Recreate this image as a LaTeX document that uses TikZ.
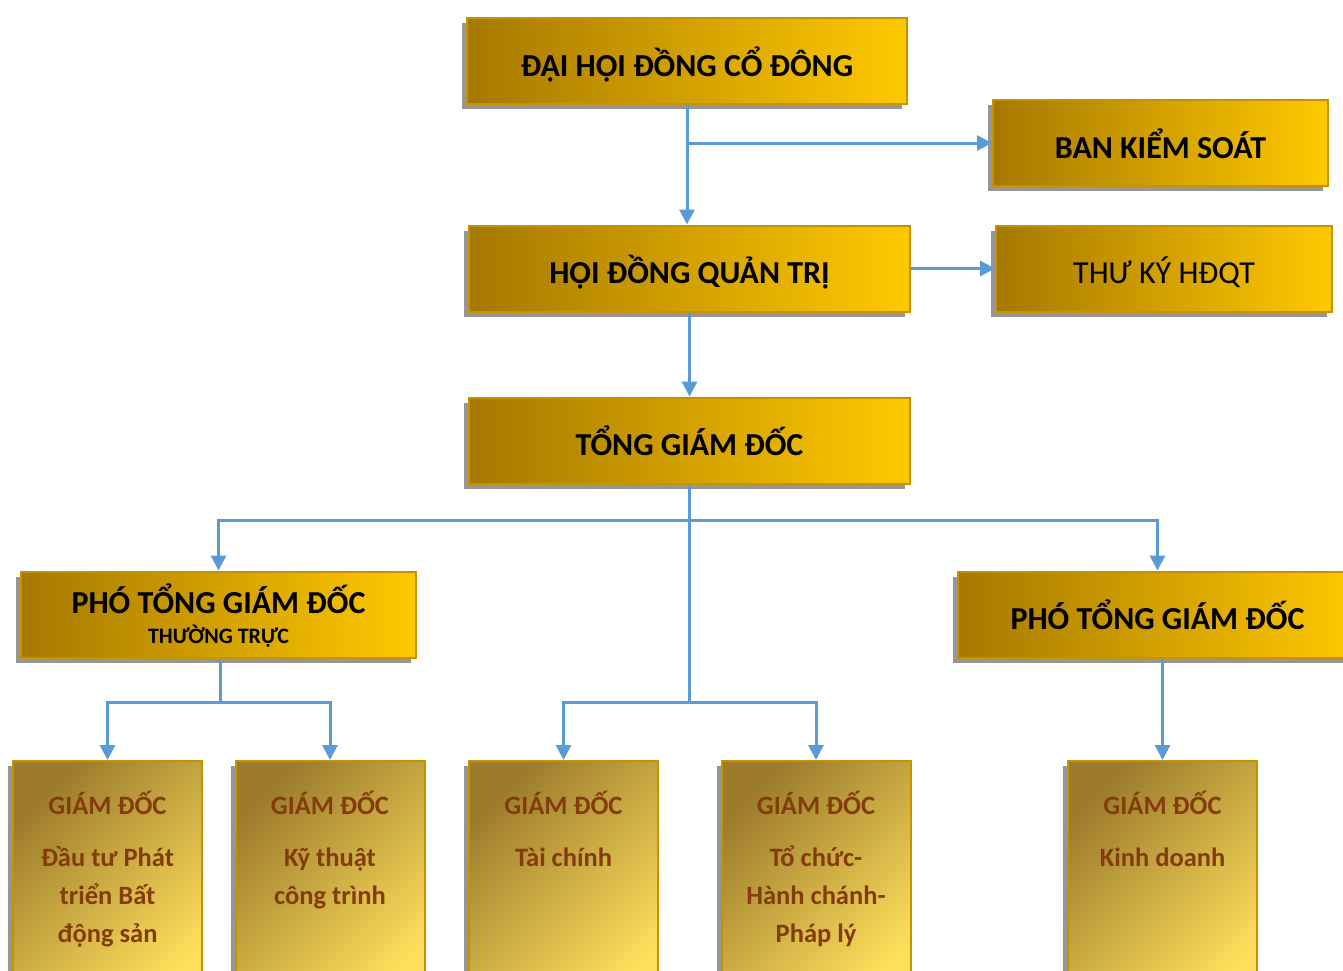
\documentclass[tikz,border=0pt]{standalone}
\usepackage{fontspec}
\setmainfont{Carlito}
\usetikzlibrary{arrows.meta,shadows,positioning}

\definecolor{golddark}{RGB}{166,120,0}
\definecolor{goldlight}{RGB}{255,201,0}
\definecolor{goldedge}{RGB}{196,148,0}
\definecolor{olivegold}{RGB}{156,124,44}
\definecolor{paleyellow}{RGB}{255,224,92}
\definecolor{browntext}{RGB}{132,60,12}
\definecolor{linkblue}{RGB}{91,155,213}
\definecolor{shadowgray}{RGB}{150,150,150}

\tikzset{
  boxshadow/.style={drop shadow={shadow xshift=-5pt, shadow yshift=-5pt, fill=shadowgray, opacity=1}},
  topbox/.style={draw=goldedge, line width=2pt, left color=golddark, right color=goldlight,
    minimum height=86pt, inner sep=0pt, boxshadow,
    font=\bfseries\fontsize{32}{38}\selectfont, text height=30pt, text depth=0pt},
  gdbox/.style={draw=goldedge, line width=2pt, top color=olivegold, bottom color=paleyellow,
    shading angle=45, minimum width=189pt, minimum height=250pt, boxshadow},
  gdtext/.style={text=browntext, font=\bfseries\fontsize{26.5}{38}\selectfont, align=center, inner sep=0pt},
  link/.style={draw=linkblue, line width=3pt, -{Triangle[length=15pt,width=15pt]}},
  trunk/.style={draw=linkblue, line width=3pt}
}

\begin{document}
\begin{tikzpicture}[x=1pt,y=-1pt]
  \useasboundingbox (0,0) rectangle (1343,970);

  % Board level
  \node[topbox, minimum width=440pt] (dhdcd) at (687,61) {ĐẠI HỘI ĐỒNG CỔ ĐÔNG};
  \node[topbox, minimum width=335pt] (bks) at (1160.5,143) {BAN KIỂM SOÁT};
  \node[topbox, minimum width=441pt] (hdqt) at (689.5,268.5) {HỘI ĐỒNG QUẢN TRỊ};
  \node[topbox, minimum width=336pt, font=\fontsize{32}{38}\selectfont] (thuky) at (1164,268.5) {THƯ KÝ HĐQT};
  \node[topbox, minimum width=441pt] (tgd) at (689.5,440.5) {TỔNG GIÁM ĐỐC};

  % Deputies
  \node[topbox, minimum width=395pt, align=center, text height=57pt] (ptgdtt) at (218.5,614.5)
    {PHÓ TỔNG GIÁM ĐỐC\\[-8pt]{\fontsize{22}{26}\selectfont THƯỜNG TRỰC}};
  \node[topbox, minimum width=399pt] (ptgd) at (1157.5,614.5) {PHÓ TỔNG GIÁM ĐỐC};

  % Directors
  \node[gdbox] (gd1) at (107.5,886) {};
  \node[gdbox] (gd2) at (330,886) {};
  \node[gdbox] (gd3) at (563.5,886) {};
  \node[gdbox] (gd4) at (816,886) {};
  \node[gdbox] (gd5) at (1162.5,886) {};

  \node[gdtext, below=31pt of gd1.north] (gd1t) {GIÁM ĐỐC\\[14pt]Đầu tư Phát\\triển Bất\\động sản};
  \node[gdtext, below=31pt of gd2.north] (gd2t) {GIÁM ĐỐC\\[14pt]Kỹ thuật\\công trình};
  \node[gdtext, below=31pt of gd3.north] (gd3t) {GIÁM ĐỐC\\[14pt]Tài chính};
  \node[gdtext, below=31pt of gd4.north] (gd4t) {GIÁM ĐỐC\\[14pt]Tổ chức-\\Hành chánh-\\Pháp lý};
  \node[gdtext, below=31pt of gd5.north] (gd5t) {GIÁM ĐỐC\\[14pt]Kinh doanh};

  % Connectors
  \coordinate (bksjoin) at (dhdcd.south |- bks.west);
  \coordinate (upsplit) at (689.5,520);
  \coordinate (lowsplit) at (689.5,702);
  \coordinate (ttsplit) at (220.5,702);

  \draw[link] (dhdcd.south) -- (dhdcd.south |- hdqt.north);
  \draw[link] (bksjoin) -- (bks.west);
  \draw[link] (hdqt.east) -- (thuky.west);
  \draw[link] (hdqt.south) -- (tgd.north);

  \draw[trunk] (tgd.south) -- (lowsplit);
  \draw[link] (upsplit) -| (ptgdtt.north);
  \draw[link] (upsplit) -| (ptgd.north);
  \draw[link] (lowsplit) -| (gd3.north);
  \draw[link] (lowsplit) -| (gd4.north);

  \draw[trunk] (ptgdtt.south -| ttsplit) -- (ttsplit);
  \draw[link] (ttsplit) -| (gd1.north);
  \draw[link] (ttsplit) -| (gd2.north);
  \draw[link] (gd5.north |- ptgd.south) -- (gd5.north);
\end{tikzpicture}
\end{document}
